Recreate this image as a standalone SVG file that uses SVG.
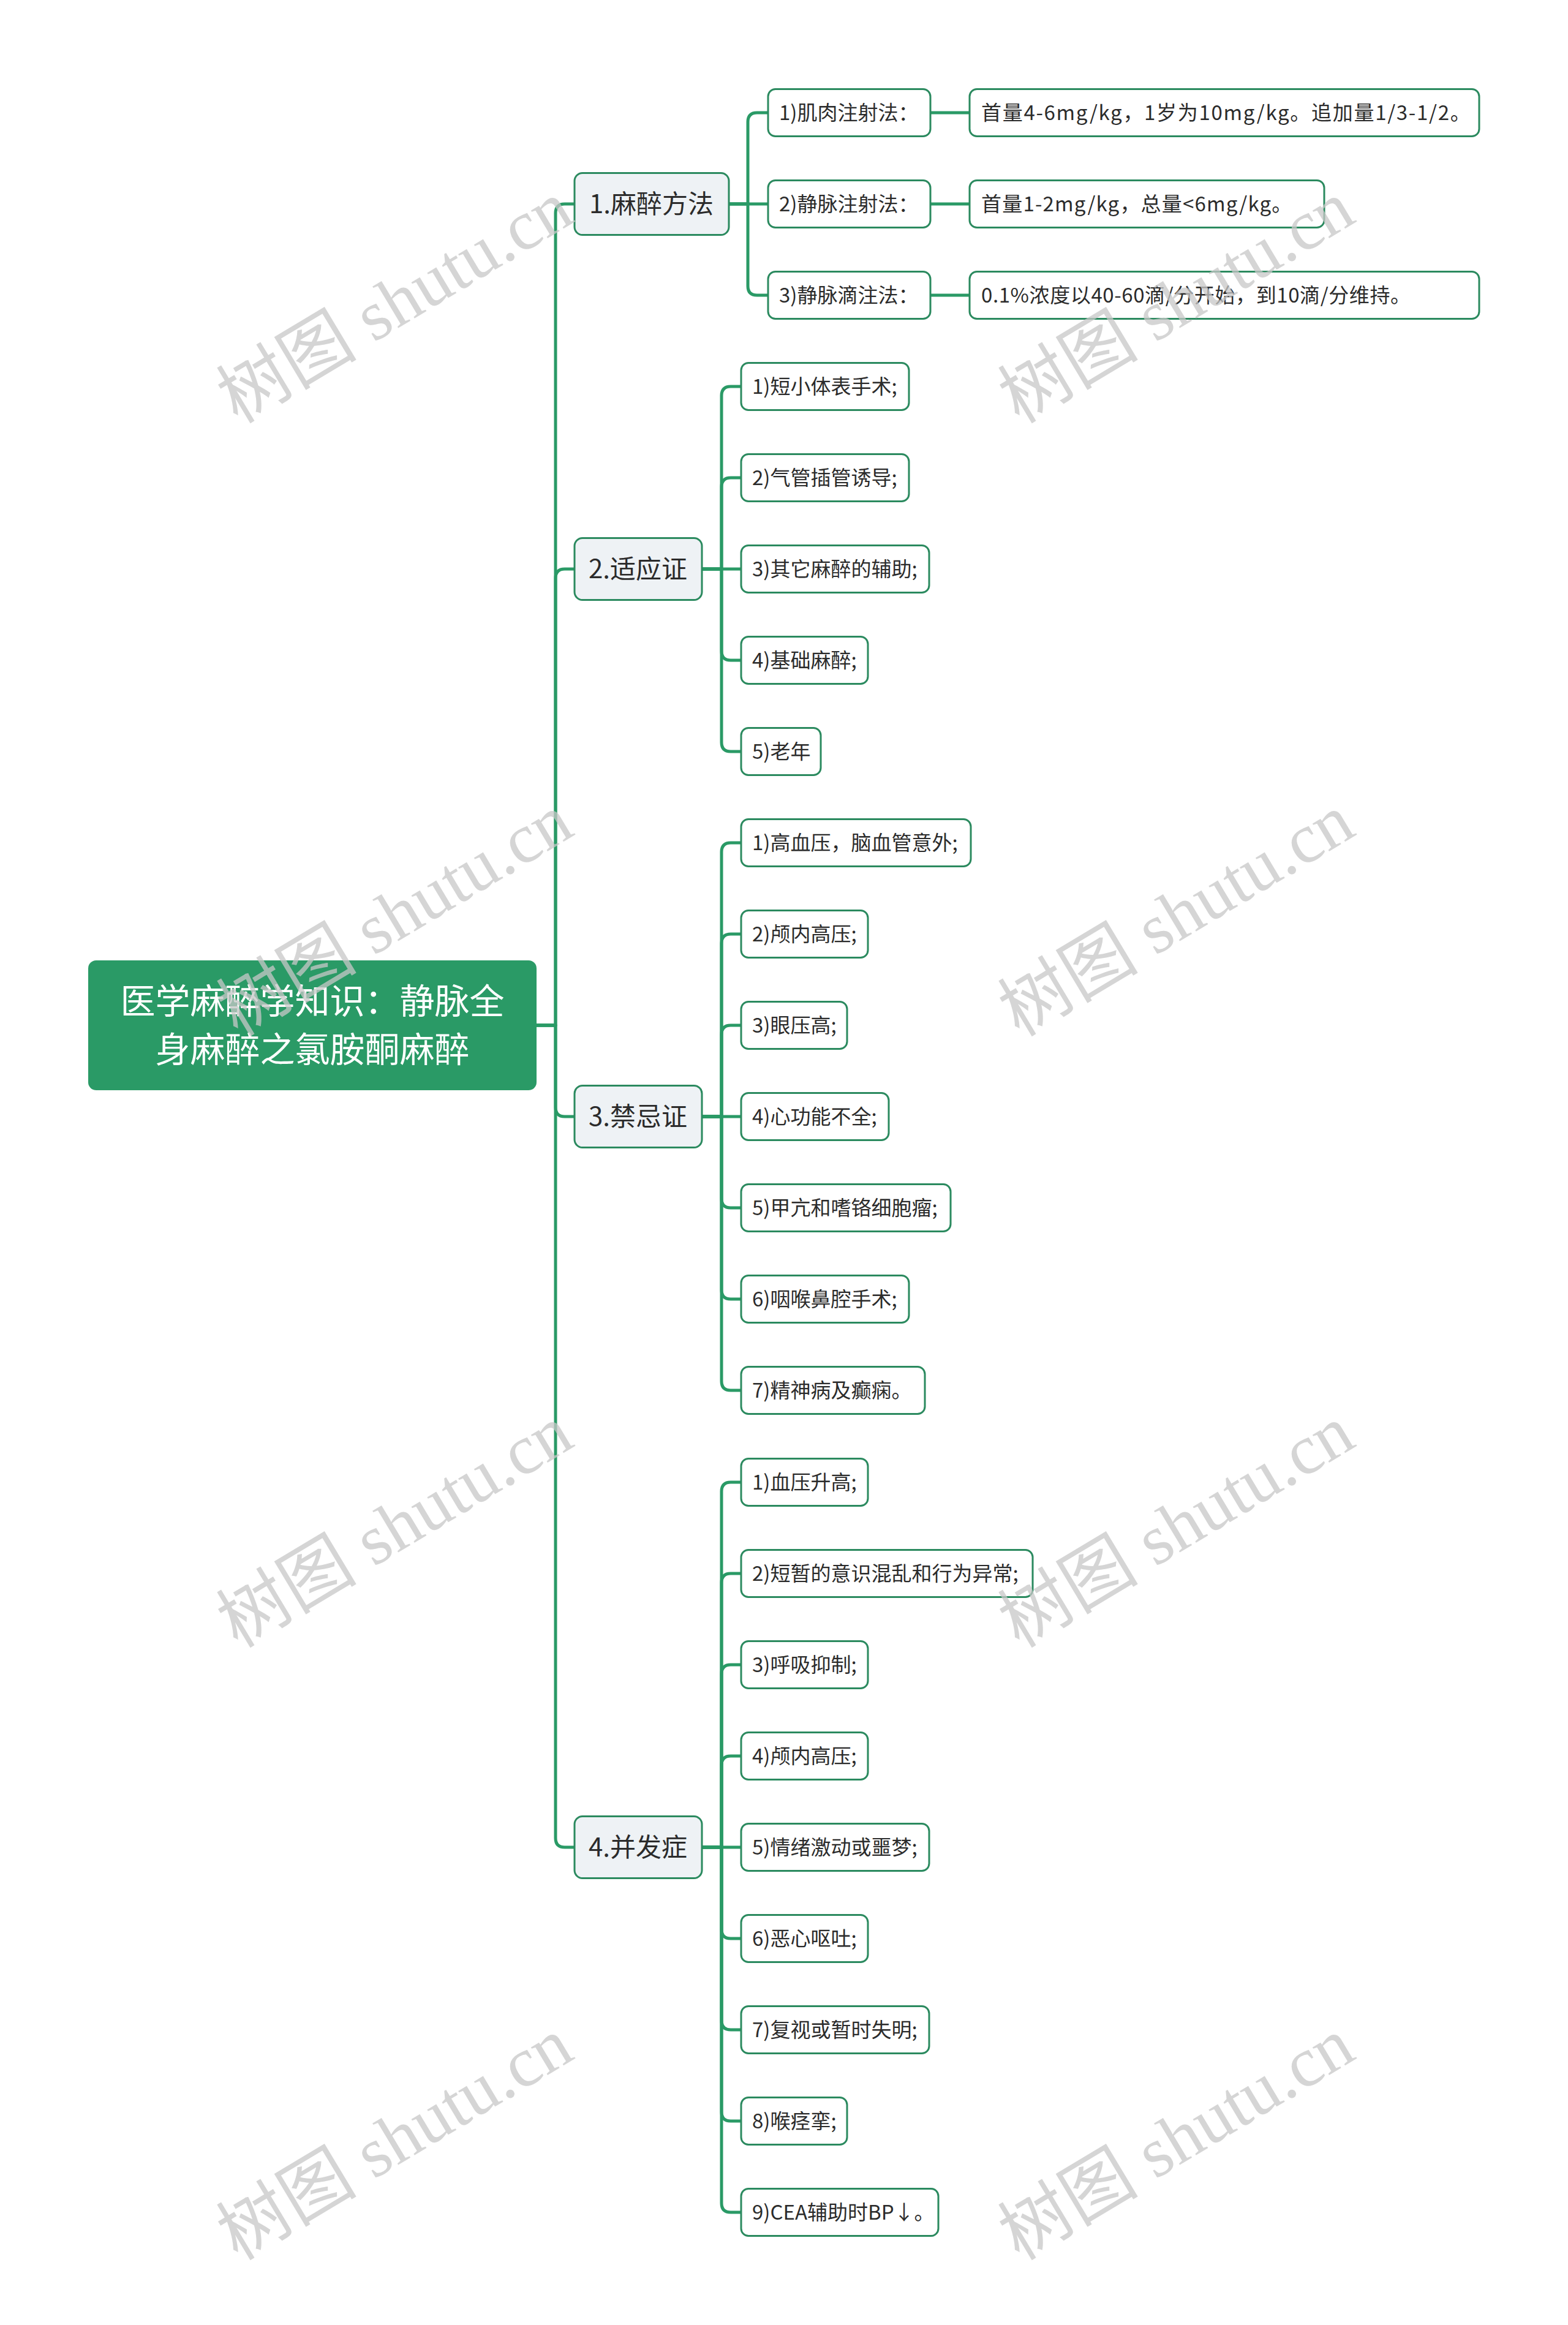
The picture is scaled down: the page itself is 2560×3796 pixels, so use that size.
<svg xmlns="http://www.w3.org/2000/svg" width="2560" height="3796" viewBox="0 0 2560 3796">
<style>
.ln{fill:none;stroke:#2a9a66;stroke-width:5;stroke-linecap:round;stroke-linejoin:round}
.rootbox{fill:#2a9a66}
.l1 rect{fill:#eef2f5;stroke:#2b8a5f;stroke-width:3}
.l2 rect{fill:#ffffff;stroke:#2b8a5f;stroke-width:3}
text{font-family:"Noto Sans CJK SC","Liberation Sans",sans-serif;fill:#2b2b2b}
.rt{fill:#ffffff;font-size:57px}
.t1{font-size:42px}
.t2{font-size:33px}
.wm text{font-family:"Liberation Serif","Noto Sans CJK SC",serif;font-size:115px;fill:#c8c8c8;opacity:0.75}
</style>
<rect width="2560" height="3796" fill="#ffffff"/>
<g id="connectors">
<path class="ln" d="M876,1674 H907 V348 Q907,333 922,333 H938"/>
<path class="ln" d="M876,1674 H907 V944 Q907,929 922,929 H938"/>
<path class="ln" d="M876,1674 H907 V1808 Q907,1823 922,1823 H938"/>
<path class="ln" d="M876,1674 H907 V3001 Q907,3016 922,3016 H938"/>
<path class="ln" d="M1190,333 H1221 V199 Q1221,184 1236,184 H1254"/>
<path class="ln" d="M1190,333 H1254"/>
<path class="ln" d="M1190,333 H1221 V467 Q1221,482 1236,482 H1254"/>
<path class="ln" d="M1519,184 H1583"/>
<path class="ln" d="M1519,333 H1583"/>
<path class="ln" d="M1519,482 H1583"/>
<path class="ln" d="M1146,929 H1178 V646 Q1178,631 1193,631 H1210"/>
<path class="ln" d="M1146,929 H1178 V795 Q1178,780 1193,780 H1210"/>
<path class="ln" d="M1146,929 H1210"/>
<path class="ln" d="M1146,929 H1178 V1063 Q1178,1078 1193,1078 H1210"/>
<path class="ln" d="M1146,929 H1178 V1212 Q1178,1227 1193,1227 H1210"/>
<path class="ln" d="M1146,1823 H1178 V1391 Q1178,1376 1193,1376 H1210"/>
<path class="ln" d="M1146,1823 H1178 V1540 Q1178,1525 1193,1525 H1210"/>
<path class="ln" d="M1146,1823 H1178 V1689 Q1178,1674 1193,1674 H1210"/>
<path class="ln" d="M1146,1823 H1210"/>
<path class="ln" d="M1146,1823 H1178 V1957 Q1178,1972 1193,1972 H1210"/>
<path class="ln" d="M1146,1823 H1178 V2106 Q1178,2121 1193,2121 H1210"/>
<path class="ln" d="M1146,1823 H1178 V2255 Q1178,2270 1193,2270 H1210"/>
<path class="ln" d="M1146,3016 H1178 V2435 Q1178,2420 1193,2420 H1210"/>
<path class="ln" d="M1146,3016 H1178 V2584 Q1178,2569 1193,2569 H1210"/>
<path class="ln" d="M1146,3016 H1178 V2733 Q1178,2718 1193,2718 H1210"/>
<path class="ln" d="M1146,3016 H1178 V2882 Q1178,2867 1193,2867 H1210"/>
<path class="ln" d="M1146,3016 H1210"/>
<path class="ln" d="M1146,3016 H1178 V3150 Q1178,3165 1193,3165 H1210"/>
<path class="ln" d="M1146,3016 H1178 V3299 Q1178,3314 1193,3314 H1210"/>
<path class="ln" d="M1146,3016 H1178 V3448 Q1178,3463 1193,3463 H1210"/>
<path class="ln" d="M1146,3016 H1178 V3597 Q1178,3612 1193,3612 H1210"/>
</g>
<g id="root">
<rect class="rootbox" x="144" y="1568" width="732" height="212" rx="13"/>
<text class="rt" x="510" y="1655" text-anchor="middle">医学麻醉学知识：静脉全</text>
<text class="rt" x="510" y="1734" text-anchor="middle">身麻醉之氯胺酮麻醉</text>
</g>
<g id="n1" class="l1"><rect x="938" y="282.5" width="252" height="101" rx="13"/><text class="t1" x="962" y="348">1.麻醉方法</text></g>
<g id="n2" class="l1"><rect x="938" y="878.5" width="208" height="101" rx="13"/><text class="t1" x="961" y="944">2.适应证</text></g>
<g id="n3" class="l1"><rect x="938" y="1772.5" width="208" height="101" rx="13"/><text class="t1" x="961" y="1838">3.禁忌证</text></g>
<g id="n4" class="l1"><rect x="938" y="2965.5" width="208" height="101" rx="13"/><text class="t1" x="961" y="3031">4.并发症</text></g>

<g id="n1-1" class="l2"><rect x="1254" y="145.5" width="265" height="77" rx="12"/><text class="t2" x="1272" y="196">1)肌肉注射法：</text></g>
<g id="n1-2" class="l2"><rect x="1254" y="294.5" width="265" height="77" rx="12"/><text class="t2" x="1272" y="345">2)静脉注射法：</text></g>
<g id="n1-3" class="l2"><rect x="1254" y="443.5" width="265" height="77" rx="12"/><text class="t2" x="1272" y="494">3)静脉滴注法：</text></g>
<g id="n1-1-1" class="l2"><rect x="1583" y="145.5" width="832" height="77" rx="12"/><text class="t2" x="1602" y="196" letter-spacing="1.7">首量4-6mg/kg，1岁为10mg/kg。追加量1/3-1/2。</text></g>
<g id="n1-2-1" class="l2"><rect x="1583" y="294.5" width="579" height="77" rx="12"/><text class="t2" x="1602" y="345" letter-spacing="1.2">首量1-2mg/kg，总量&lt;6mg/kg。</text></g>
<g id="n1-3-1" class="l2"><rect x="1583" y="443.5" width="832" height="77" rx="12"/><text class="t2" x="1602" y="494" letter-spacing="0.6">0.1%浓度以40-60滴/分开始，到10滴/分维持。</text></g>

<g id="n2-1" class="l2"><rect x="1210" y="592.5" width="274" height="77" rx="12"/><text class="t2" x="1228" y="643">1)短小体表手术;</text></g>
<g id="n2-2" class="l2"><rect x="1210" y="741.5" width="274" height="77" rx="12"/><text class="t2" x="1228" y="792">2)气管插管诱导;</text></g>
<g id="n2-3" class="l2"><rect x="1210" y="890.5" width="307" height="77" rx="12"/><text class="t2" x="1228" y="941">3)其它麻醉的辅助;</text></g>
<g id="n2-4" class="l2"><rect x="1210" y="1039.5" width="207" height="77" rx="12"/><text class="t2" x="1228" y="1090">4)基础麻醉;</text></g>
<g id="n2-5" class="l2"><rect x="1210" y="1188.5" width="130" height="77" rx="12"/><text class="t2" x="1228" y="1239">5)老年</text></g>

<g id="n3-1" class="l2"><rect x="1210" y="1337.5" width="375" height="77" rx="12"/><text class="t2" x="1228" y="1388">1)高血压，脑血管意外;</text></g>
<g id="n3-2" class="l2"><rect x="1210" y="1486.5" width="207" height="77" rx="12"/><text class="t2" x="1228" y="1537">2)颅内高压;</text></g>
<g id="n3-3" class="l2"><rect x="1210" y="1635.5" width="173" height="77" rx="12"/><text class="t2" x="1228" y="1686">3)眼压高;</text></g>
<g id="n3-4" class="l2"><rect x="1210" y="1784.5" width="241" height="77" rx="12"/><text class="t2" x="1228" y="1835">4)心功能不全;</text></g>
<g id="n3-5" class="l2"><rect x="1210" y="1933.5" width="342" height="77" rx="12"/><text class="t2" x="1228" y="1984">5)甲亢和嗜铬细胞瘤;</text></g>
<g id="n3-6" class="l2"><rect x="1210" y="2082.5" width="274" height="77" rx="12"/><text class="t2" x="1228" y="2133">6)咽喉鼻腔手术;</text></g>
<g id="n3-7" class="l2"><rect x="1210" y="2231.5" width="300" height="77" rx="12"/><text class="t2" x="1228" y="2282">7)精神病及癫痫。</text></g>

<g id="n4-1" class="l2"><rect x="1210" y="2381.5" width="207" height="77" rx="12"/><text class="t2" x="1228" y="2432">1)血压升高;</text></g>
<g id="n4-2" class="l2"><rect x="1210" y="2530.5" width="476" height="77" rx="12"/><text class="t2" x="1228" y="2581">2)短暂的意识混乱和行为异常;</text></g>
<g id="n4-3" class="l2"><rect x="1210" y="2679.5" width="207" height="77" rx="12"/><text class="t2" x="1228" y="2730">3)呼吸抑制;</text></g>
<g id="n4-4" class="l2"><rect x="1210" y="2828.5" width="207" height="77" rx="12"/><text class="t2" x="1228" y="2879">4)颅内高压;</text></g>
<g id="n4-5" class="l2"><rect x="1210" y="2977.5" width="307" height="77" rx="12"/><text class="t2" x="1228" y="3028">5)情绪激动或噩梦;</text></g>
<g id="n4-6" class="l2"><rect x="1210" y="3126.5" width="207" height="77" rx="12"/><text class="t2" x="1228" y="3177">6)恶心呕吐;</text></g>
<g id="n4-7" class="l2"><rect x="1210" y="3275.5" width="307" height="77" rx="12"/><text class="t2" x="1228" y="3326">7)复视或暂时失明;</text></g>
<g id="n4-8" class="l2"><rect x="1210" y="3424.5" width="173" height="77" rx="12"/><text class="t2" x="1228" y="3475">8)喉痉挛;</text></g>
<g id="n4-9" class="l2"><rect x="1210" y="3573.5" width="322" height="77" rx="12"/><text class="t2" x="1228" y="3624">9)CEA辅助时BP↓。</text></g>

<g id="watermarks" class="wm">
<text transform="translate(388,693) rotate(-31)">树图 shutu.cn</text>
<text transform="translate(1664,693) rotate(-31)">树图 shutu.cn</text>
<text transform="translate(388,1694) rotate(-31)">树图 shutu.cn</text>
<text transform="translate(1664,1694) rotate(-31)">树图 shutu.cn</text>
<text transform="translate(388,2692) rotate(-31)">树图 shutu.cn</text>
<text transform="translate(1664,2692) rotate(-31)">树图 shutu.cn</text>
<text transform="translate(388,3692) rotate(-31)">树图 shutu.cn</text>
<text transform="translate(1664,3692) rotate(-31)">树图 shutu.cn</text>
</g>
</svg>
